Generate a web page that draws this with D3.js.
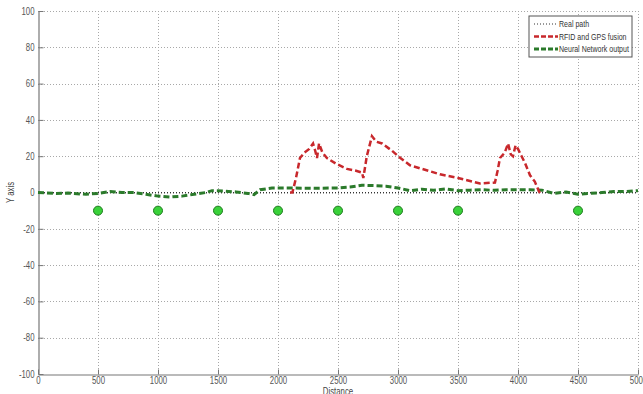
<!DOCTYPE html>
<html lang="en">
<head>
    <meta charset="UTF-8">
    <title>Path comparison</title>
    <style>
        body { margin: 0; background: #fff; }
        text { font-family: "Liberation Sans", Arial, sans-serif; }
    </style>
</head>
<body>
<svg id="chart" width="643" height="394"></svg>
<script src="https://d3js.org/d3.v7.min.js"></script>
<script>
    /* global d3 */

    // real path: straight line along y = 0
    let realX = [0, 5000],
        realY = [0, 0];

    // RFID and GPS fusion (only in the 2100 - 4200 stretch)
    let rfidX = [2100, 2120, 2150, 2183, 2220, 2260, 2292, 2310, 2325, 2342, 2370, 2408, 2480, 2575, 2650, 2700, 2711, 2740, 2783, 2820, 2867, 2950, 3020, 3100, 3200, 3350, 3500, 3683, 3808, 3830, 3850, 3890, 3917, 3940, 3958, 3980, 4000, 4030, 4060, 4100, 4140, 4183],
        rfidY = [0, 0, 8, 19, 22, 24, 27, 23, 19, 27, 22, 19, 16, 13, 12, 11, 8, 20, 31, 28, 27, 23, 19, 15, 13, 10, 8, 5, 5.5, 12, 19, 22, 27, 21, 20, 26, 24, 20, 16, 9.5, 6, -0.5];

    // neural network output
    let nnX = [0, 150, 250, 400, 500, 600, 700, 800, 900, 1000, 1100, 1200, 1300, 1400, 1450, 1550, 1650, 1750, 1800, 1850, 1950, 2100, 2300, 2500, 2600, 2700, 2800, 2900, 3000, 3100, 3200, 3300, 3400, 3500, 3600, 3700, 3800, 3900, 4000, 4100, 4200, 4300, 4400, 4500, 4600, 4700, 4800, 4900, 5000],
        nnY = [0, -0.5, -0.3, -1, -0.5, 0.5, 0, 0, -1, -2, -2.5, -2, -1, 0, 1, 0.8, 0.3, -0.5, -1.2, 1.5, 2.5, 2.5, 2.3, 2.5, 3, 4, 3.8, 3.5, 2.5, 1, 1.8, 1.2, 2, 1, 1.3, 1.5, 1.2, 1.5, 1.5, 1.5, 1.3, -0.5, 0.3, -1, -0.5, 0, 0.5, 0.5, 1];

    // reference points
    let dotX = [500, 1000, 1500, 2000, 2500, 3000, 3500, 4500],
        dotY = [-10, -10, -10, -10, -10, -10, -10, -10];

    let xTicks = [0, 500, 1000, 1500, 2000, 2500, 3000, 3500, 4000, 4500, 5000],
        yTicks = [-100, -80, -60, -40, -20, 0, 20, 40, 60, 80, 100];

    let legendLabels = ["Real path", "RFID and GPS fusion", "Neural Network output"];

    let svg = d3.select("#chart"),
        mLeft = 38, mRight = 638, mTop = 11, mBottom = 374;

    let x = d3.scaleLinear().domain([0, 5000]).range([mLeft, mRight]),
        y = d3.scaleLinear().domain([-100, 100]).range([mBottom, mTop]);

    // grid
    let grid = svg.append("g")
        .attr("stroke", "#a8a8a8")
        .attr("stroke-width", 1)
        .attr("stroke-dasharray", "1,2");
    grid.selectAll(".gx").data(xTicks.slice(1)).join("line")
        .attr("x1", d => Math.round(x(d)) + 0.5).attr("x2", d => Math.round(x(d)) + 0.5)
        .attr("y1", mTop).attr("y2", mBottom);
    grid.selectAll(".gy").data(yTicks.slice(1)).join("line")
        .attr("x1", mLeft).attr("x2", mRight)
        .attr("y1", d => Math.round(y(d)) + 0.5).attr("y2", d => Math.round(y(d)) + 0.5);

    // axes (matlab style: ticks pointing inwards, plain hyphen minus)
    let xAxis = svg.append("g")
        .attr("transform", "translate(0," + (mBottom + 0.5) + ")")
        .call(d3.axisBottom(x).tickValues(xTicks).tickSizeInner(-5).tickSizeOuter(0).tickPadding(2).tickFormat(d => String(d)));
    let yAxis = svg.append("g")
        .attr("transform", "translate(" + (mLeft + 0.5) + ",0)")
        .call(d3.axisLeft(y).tickValues(yTicks).tickSizeInner(-5).tickSizeOuter(0).tickPadding(4).tickFormat(d => String(d)));
    [xAxis, yAxis].forEach(function (a) {
        a.select(".domain").attr("stroke", "#777").attr("stroke-width", 1.2);
        a.selectAll(".tick line").attr("stroke", "#777");
        a.selectAll(".tick text").attr("fill", "#555").attr("font-size", 10)
            .attr("font-family", "'Liberation Sans', sans-serif");
    });

    svg.append("text")
        .attr("x", x(2500)).attr("y", 395)
        .attr("text-anchor", "middle").attr("font-size", 10).attr("fill", "#444")
        .text("Distance");
    svg.append("text")
        .attr("transform", "translate(14," + y(0) + ") rotate(-90)")
        .attr("text-anchor", "middle").attr("font-size", 10).attr("fill", "#444")
        .text("Y axis");

    let line = d3.line().x(d => x(d[0])).y(d => y(d[1]));

    // real path
    svg.append("path")
        .datum(d3.zip(realX, realY))
        .attr("d", line).attr("fill", "none")
        .attr("stroke", "#333").attr("stroke-width", 1).attr("stroke-dasharray", "1,2");

    // neural network output
    svg.append("path")
        .datum(d3.zip(nnX, nnY))
        .attr("d", line).attr("fill", "none")
        .attr("stroke", "#2b7a2b").attr("stroke-width", 3).attr("stroke-dasharray", "6,3");

    // rfid + gps
    svg.append("path")
        .datum(d3.zip(rfidX, rfidY))
        .attr("d", line).attr("fill", "none")
        .attr("stroke", "#c8282c").attr("stroke-width", 2.5).attr("stroke-dasharray", "6,3");

    svg.selectAll(".dot").data(d3.zip(dotX, dotY)).join("circle")
        .attr("cx", d => x(d[0])).attr("cy", d => y(d[1])).attr("r", 4.5)
        .attr("fill", "#3ad13a").attr("stroke", "#1c7a1c").attr("stroke-width", 1);

    // legend
    let legend = svg.append("g").attr("transform", "translate(529,16)");
    legend.append("rect")
        .attr("width", 103).attr("height", 41)
        .attr("fill", "#fff").attr("stroke", "#555").attr("stroke-width", 1);
    let styles = [
        {stroke: "#333", width: 1, dash: "1,2"},
        {stroke: "#c8282c", width: 2.5, dash: "5,2"},
        {stroke: "#2b7a2b", width: 3, dash: "5,2"}
    ];
    legendLabels.forEach(function (label, i) {
        let yy = 8 + i * 12.5;
        legend.append("line")
            .attr("x1", 5).attr("x2", 29).attr("y1", yy).attr("y2", yy)
            .attr("stroke", styles[i].stroke).attr("stroke-width", styles[i].width)
            .attr("stroke-dasharray", styles[i].dash);
        legend.append("text")
            .attr("x", 30).attr("y", yy + 3).attr("font-size", 9).attr("fill", "#333")
            .text(label);
    });

    // the original uses a narrow font; squeeze every text a bit
    svg.selectAll("text").each(function () {
        let w = this.getComputedTextLength();
        d3.select(this).attr("textLength", w * 0.78).attr("lengthAdjust", "spacingAndGlyphs");
    });
</script>
</body>
</html>
